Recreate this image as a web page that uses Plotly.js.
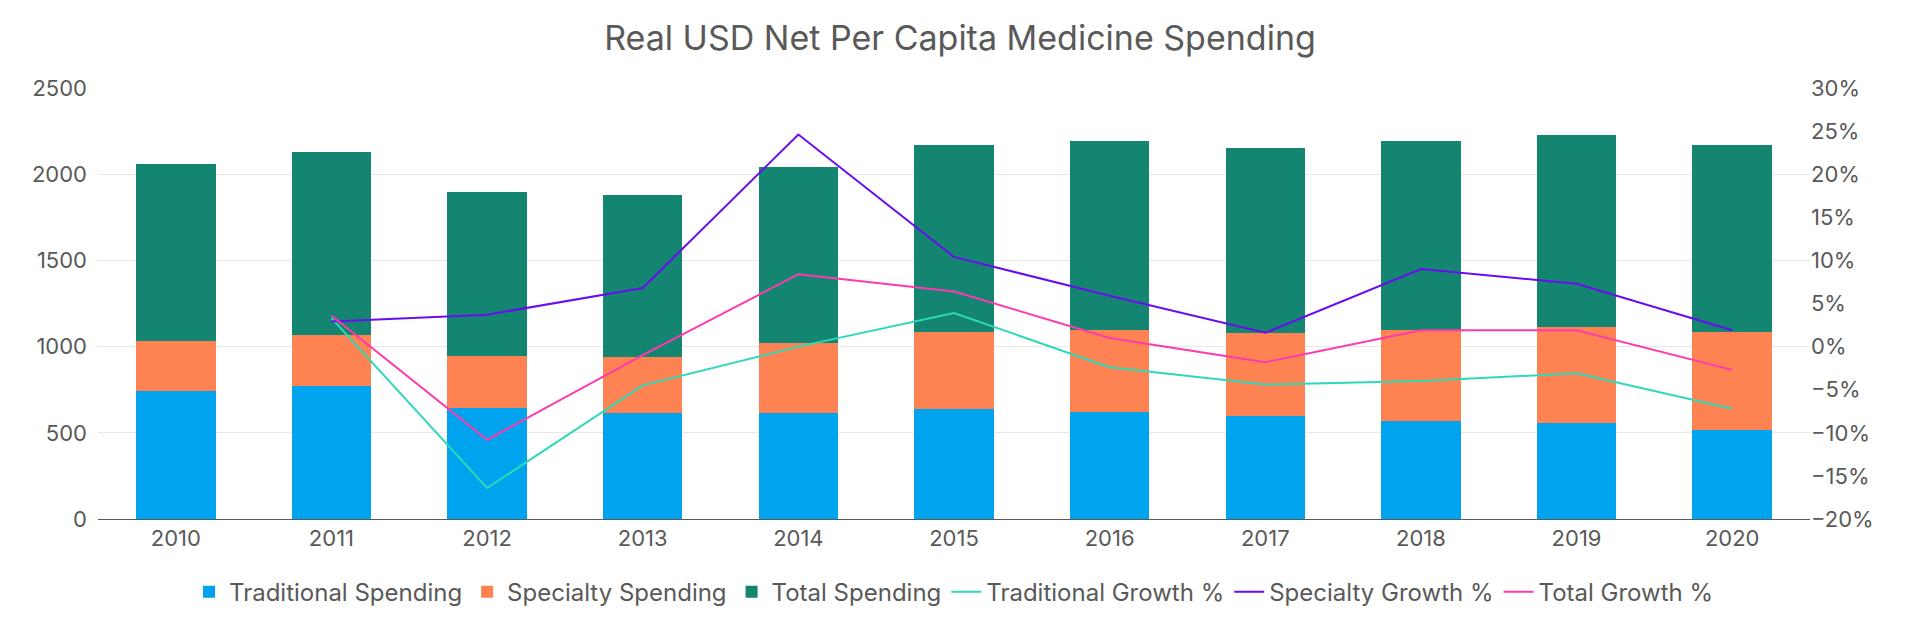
<!DOCTYPE html>
<html><head><meta charset="utf-8">
<script src="https://cdn.plot.ly/plotly-3.0.1.min.js"></script>
<style>body{margin:0}#c{width:1920px;height:640px}</style></head>
<body><div id="c"></div>
<script>
const years = ['2010','2011','2012','2013','2014','2015','2016','2017','2018','2019','2020'];
const traditional = [745,770,645,615,615,640,620,595,570,555,515];
const specialty = [285,295,303,325,405,445,477,482,525,560,570];
const total = [1030,1065,948,940,1020,1085,1097,1077,1095,1115,1085];
const tradGrowth = [null,3.3,-16.4,-4.5,0.0,3.9,-2.4,-4.4,-4.0,-3.1,-7.2];
const specGrowth = [null,2.9,3.7,6.8,24.6,10.4,5.9,1.6,9.0,7.3,1.9];
const totalGrowth = [null,3.6,-10.8,-1.0,8.4,6.4,1.0,-1.8,1.9,1.9,-2.7];
const pct = a => a.map(v => v === null ? null : v/100);
const font = {family:'Inter, "Open Sans", sans-serif', color:'#595959'};
const data = [
 {type:'bar', name:'Traditional Spending', x:years, y:traditional, marker:{color:'#00A3EE'}},
 {type:'bar', name:'Specialty Spending', x:years, y:specialty, marker:{color:'#FF8352'}},
 {type:'bar', name:'Total Spending', x:years, y:total, marker:{color:'#148570'}},
 {type:'scatter', mode:'lines', name:'Traditional Growth %', x:years, y:pct(tradGrowth), yaxis:'y2', line:{color:'#2ED9B8', width:2}},
 {type:'scatter', mode:'lines', name:'Specialty Growth %', x:years, y:pct(specGrowth), yaxis:'y2', line:{color:'#6A0CF0', width:2}},
 {type:'scatter', mode:'lines', name:'Total Growth %', x:years, y:pct(totalGrowth), yaxis:'y2', line:{color:'#FF3AAE', width:2}}
];
const layout = {
 width:1920, height:640, barmode:'stack', bargap:0.49,
 margin:{l:98, r:110, t:88, b:121},
 paper_bgcolor:'#fff', plot_bgcolor:'#fff', font:Object.assign({size:22}, font),
 title:{text:'Real USD Net Per Capita Medicine Spending', x:0.5, xanchor:'center', y:0.94, yanchor:'middle', font:Object.assign({}, font, {size:34})},
 xaxis:{type:'category', showline:true, linecolor:'#595959', linewidth:1, ticks:'', tickfont:{size:22}},
 yaxis:{range:[0,2500], dtick:500, gridcolor:'#E8E8E8', zeroline:false, tickfont:{size:22}, ticklabelstandoff:10},
 yaxis2:{overlaying:'y', side:'right', range:[-0.2,0.3], dtick:0.05, tickformat:'.0%', showgrid:false, zeroline:false, tickfont:{size:22}},
 legend:{orientation:'h', x:0.5, xanchor:'center', y:-0.17, yanchor:'middle', font:{size:24}, traceorder:'normal', itemwidth:30},
 showlegend:true
};
Plotly.newPlot('c', data, layout, {displayModeBar:false});
</script></body></html>
